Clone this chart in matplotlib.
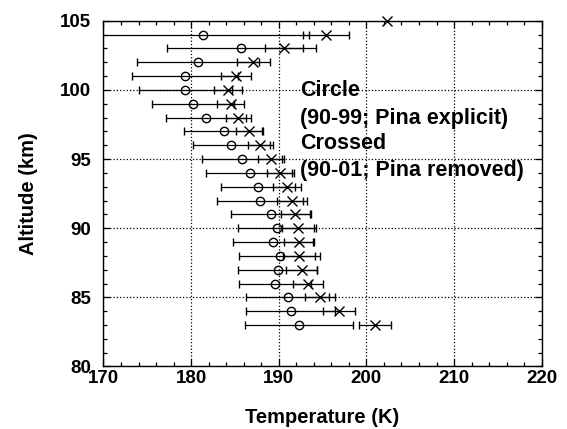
import numpy as np
import matplotlib
matplotlib.use('Agg')
import matplotlib.pyplot as plt
from matplotlib.ticker import MultipleLocator

plt.rcParams['font.family'] = ['Liberation Sans', 'DejaVu Sans']
plt.rcParams['font.weight'] = 'bold'

# altitude levels (km)
alt = np.arange(104, 82, -1)

# circles: 90-99, Pina explicit
circ_t = [181.3, 185.7, 180.8, 179.3, 179.35, 180.2, 181.7, 183.7, 184.6, 185.8, 186.7,
          187.6, 187.85, 189.1, 189.8, 189.35, 190.1, 189.9, 189.6, 191.0, 191.35, 192.3]
circ_err = [12.2, 8.5, 7.0, 6.1, 5.35, 4.7, 4.6, 4.5, 4.4, 4.6, 5.0,
            4.2, 4.9, 4.6, 4.4, 4.6, 4.6, 4.5, 4.1, 4.7, 5.1, 6.2]

# crosses: 90-01, Pina removed
cross_t = [195.4, 190.6, 187.1, 185.1, 184.2, 184.5, 185.4, 186.6, 187.9, 189.1, 190.1,
           190.9, 191.5, 191.9, 192.2, 192.3, 192.3, 192.6, 193.3, 194.7, 196.9, 201.0]
cross_err = [2.6, 2.2, 1.9, 1.7, 1.6, 1.5, 1.4, 1.5, 1.4, 1.5, 1.45,
             1.6, 1.7, 1.7, 1.8, 1.7, 1.8, 1.8, 1.7, 1.7, 1.8, 1.85]

# lone cross sitting on the top edge
top_alt = 105
top_t = 202.3

note_lines = ['Circle', '(90-99; Pina explicit)', 'Crossed', '(90-01; Pina removed)']

fig = plt.figure(figsize=(5.67, 4.29), dpi=100)
ax = fig.add_axes([0.1825, 0.1457, 0.7729, 0.806])

ax.errorbar(circ_t, alt, xerr=circ_err, fmt='o', mfc='none', mec='black', ms=6,
            mew=1.0, ecolor='black', elinewidth=0.9, capsize=3.2, capthick=0.9)
ax.errorbar(cross_t, alt, xerr=cross_err, fmt='x', color='black', ms=6.5,
            mew=1.0, ecolor='black', elinewidth=0.9, capsize=3.2, capthick=0.9)
ax.plot([top_t], [top_alt], 'x', color='black', ms=6.5, mew=1.0, clip_on=False)

ax.set_xlim(170, 220)
ax.set_ylim(80, 105)
ax.xaxis.set_major_locator(MultipleLocator(10))
ax.xaxis.set_minor_locator(MultipleLocator(2))
ax.yaxis.set_major_locator(MultipleLocator(5))
ax.yaxis.set_minor_locator(MultipleLocator(1))
ax.tick_params(which='both', direction='in', top=True, right=True, width=0.9)
ax.tick_params(which='major', length=5, labelsize=13.5)
ax.tick_params(axis='x', which='major', pad=2.5)
ax.tick_params(axis='y', which='major', pad=9)
ax.tick_params(which='minor', length=3)
ax.grid(True, which='major', linestyle=':', color='black', linewidth=0.9)
for s in ax.spines.values():
    s.set_linewidth(1.0)

ax.set_xlabel('Temperature (K)', fontsize=14.5, fontweight='bold', labelpad=15)
ax.set_ylabel('Altitude (km)', fontsize=14.5, fontweight='bold', labelpad=16)

for ypos, line in zip([99.92, 97.94, 96.13, 94.17], note_lines):
    ax.text(192.4, ypos, line, fontsize=15.5, fontweight='bold', va='center', ha='left')

fig.savefig('out.png', dpi=100)
